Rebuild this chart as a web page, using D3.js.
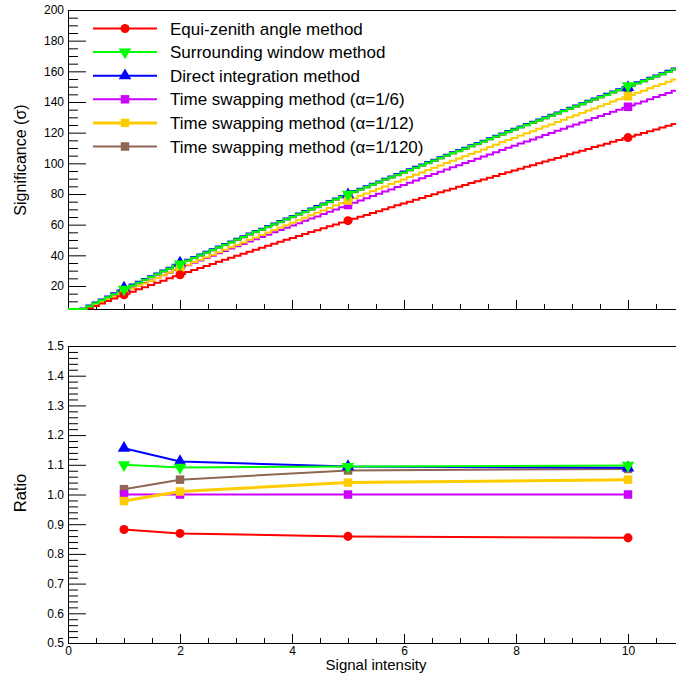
<!DOCTYPE html>
<html><head><meta charset="utf-8">
<script src="https://cdn.jsdelivr.net/npm/d3@7"></script>
<style>
body{margin:0;background:#fff;}
svg{display:block;font-family:"Liberation Sans",Arial,Helvetica,sans-serif;}
</style>
</head><body>
<svg id="c" width="676" height="680"></svg>
<script>
// ---------------- DATA ----------------
const seriesNames = [
  "Equi-zenith angle method",
  "Surrounding window method",
  "Direct integration method",
  "Time swapping method (\u03b1=1/6)",
  "Time swapping method (\u03b1=1/12)",
  "Time swapping method (\u03b1=1/120)"
];
const markerX = [1, 2, 5, 10];

// histograms (significance vs signal intensity), 100 bins on [0, 11]
const histLow = 0, histHigh = 11;
const histRed = [0.8,2.4,4.0,5.5,7.0,8.6,10.2,11.8,13.3,14.9,
 16.3,17.8,19.2,20.6,22.1,23.5,25.0,26.4,27.8,29.1,
 30.4,31.7,33.1,34.4,35.8,37.1,38.4,39.7,41.0,42.4,
 43.6,44.9,46.2,47.5,48.8,50.1,51.3,52.6,53.9,55.2,
 56.3,57.6,58.9,60.1,61.4,62.7,63.9,65.2,66.3,67.6,
 68.8,70.1,71.3,72.6,73.8,75.0,76.2,77.4,78.7,79.9,
 81.1,82.3,83.5,84.7,85.9,87.1,88.3,89.4,90.6,91.8,
 93.0,94.2,95.4,96.5,97.7,98.8,100.0,101.2,102.4,103.5,
 104.7,105.9,107.0,108.2,109.4,110.6,111.6,112.8,114.0,115.2,
 116.3,117.5,118.7,119.8,121.0,122.1,123.3,124.5,125.6,126.8];
const histGreen = [1.0,3.0,4.9,6.8,8.8,10.7,12.7,14.7,16.5,18.5,
 20.4,22.2,24.0,25.8,27.7,29.6,31.4,33.3,35.0,36.7,
 38.4,40.1,41.8,43.5,45.2,46.9,48.6,50.3,51.9,53.7,
 55.3,56.9,58.6,60.2,61.9,63.5,65.2,66.8,68.4,70.1,
 71.6,73.3,74.9,76.5,78.2,79.8,81.4,83.0,84.5,86.2,
 87.7,89.4,90.9,92.5,94.1,95.7,97.2,98.8,100.4,101.9,
 103.5,105.1,106.7,108.2,109.7,111.3,112.8,114.3,115.9,117.5,
 119.0,120.6,122.1,123.6,125.2,126.6,128.1,129.6,131.2,132.7,
 134.2,135.8,137.2,138.7,140.3,141.8,143.2,144.8,146.3,147.8,
 149.2,150.8,152.3,153.7,155.3,156.8,158.2,159.8,161.3,162.7];
const histBlue = [1.5,3.5,5.4,7.3,9.3,11.2,13.2,15.2,17.0,19.0,
 20.9,22.7,24.5,26.3,28.2,30.1,31.9,33.8,35.5,37.2,
 38.9,40.6,42.3,44.0,45.7,47.4,49.1,50.8,52.4,54.2,
 55.8,57.4,59.1,60.7,62.4,64.0,65.7,67.3,68.9,70.6,
 72.1,73.8,75.4,77.0,78.7,80.3,81.9,83.5,85.0,86.7,
 88.2,89.9,91.4,93.0,94.6,96.2,97.7,99.3,100.9,102.4,
 104.0,105.6,107.2,108.7,110.2,111.8,113.3,114.8,116.4,118.0,
 119.5,121.1,122.6,124.1,125.7,127.1,128.6,130.1,131.7,133.2,
 134.7,136.3,137.7,139.2,140.8,142.3,143.7,145.3,146.8,148.3,
 149.7,151.3,152.8,154.2,155.8,157.3,158.7,160.3,161.8,163.2];
const histMagenta = [0.9,2.7,4.5,6.2,8.0,9.8,11.6,13.4,15.1,16.9,
 18.6,20.3,21.9,23.6,25.3,27.0,28.7,30.4,32.0,33.5,
 35.1,36.6,38.2,39.7,41.3,42.8,44.4,45.9,47.4,49.0,
 50.5,52.0,53.5,55.0,56.5,58.0,59.5,61.0,62.5,64.0,
 65.4,66.9,68.4,69.9,71.4,72.9,74.3,75.8,77.2,78.7,
 80.1,81.6,83.0,84.5,85.9,87.4,88.8,90.2,91.7,93.1,
 94.5,96.0,97.4,98.8,100.2,101.6,103.0,104.4,105.8,107.3,
 108.7,110.1,111.5,112.9,114.3,115.6,117.0,118.4,119.8,121.2,
 122.6,124.0,125.3,126.7,128.1,129.5,130.8,132.2,133.6,135.0,
 136.3,137.7,139.1,140.4,141.8,143.2,144.5,145.9,147.3,148.6];
const histYellow = [0.9,2.6,4.4,6.1,7.8,9.6,11.4,13.1,14.8,16.6,
 18.3,20.1,21.7,23.5,25.2,27.0,28.8,30.6,32.3,33.9,
 35.6,37.1,38.8,40.3,42.0,43.6,45.2,46.8,48.4,50.1,
 51.7,53.3,54.9,56.5,58.1,59.7,61.3,62.9,64.5,66.1,
 67.7,69.3,70.9,72.6,74.2,75.8,77.3,78.8,80.4,81.9,
 83.4,84.9,86.5,88.0,89.5,91.1,92.5,94.1,95.6,97.1,
 98.6,100.2,101.7,103.1,104.6,106.1,107.6,109.1,110.6,112.1,
 113.7,115.2,116.6,118.1,119.6,121.0,122.5,124.0,125.4,126.9,
 128.5,130.0,131.3,132.8,134.4,135.8,137.2,138.7,140.3,141.8,
 143.1,144.6,146.1,147.4,148.9,150.4,151.7,153.2,154.7,156.0];
const histBrown = [0.7,2.7,4.6,6.5,8.5,10.4,12.4,14.4,16.2,18.2,
 20.1,21.9,23.7,25.5,27.4,29.3,31.1,33.0,34.7,36.4,
 38.1,39.8,41.5,43.2,44.9,46.6,48.3,50.0,51.6,53.4,
 55.0,56.6,58.3,59.9,61.6,63.2,64.9,66.5,68.1,69.8,
 71.3,73.0,74.6,76.2,77.9,79.5,81.1,82.7,84.2,85.9,
 87.4,89.1,90.6,92.2,93.8,95.4,96.9,98.5,100.1,101.6,
 103.2,104.8,106.4,107.9,109.4,111.0,112.5,114.0,115.6,117.2,
 118.7,120.3,121.8,123.3,124.9,126.3,127.8,129.3,130.9,132.4,
 133.9,135.5,136.9,138.4,140.0,141.5,142.9,144.5,146.0,147.5,
 148.9,150.5,152.0,153.4,155.0,156.5,157.9,159.5,161.0,162.4];

// significance markers at markerX
const sigRed     = [14.3, 27.3, 62.6, 116.8];
const sigGreen   = [17.8, 34.3, 79.7, 150.6];
const sigBlue    = [18.7, 35.0, 79.6, 149.5];
const sigMagenta = [16.2, 31.5, 72.8, 136.9];
const sigYellow  = [15.9, 31.8, 75.7, 143.7];
const sigBrown   = [16.5, 33.1, 78.6, 148.9];

// ratios at markerX
const ratioRed     = [0.882, 0.869, 0.859, 0.854];
const ratioGreen   = [1.100, 1.091, 1.094, 1.098];
const ratioBlue    = [1.156, 1.111, 1.094, 1.090];
const ratioMagenta = [1.000, 1.000, 1.000, 1.000];
const ratioYellow  = [0.978, 1.010, 1.040, 1.050];
const ratioBrown   = [1.018, 1.050, 1.081, 1.086];

// tick labels
const xTickLabels = [0, 2, 4, 6, 8, 10];
const ySigTickLabels = [20, 40, 60, 80, 100, 120, 140, 160, 180, 200];
const yRatioTickLabels = [0.5, 0.6, 0.7, 0.8, 0.9, 1, 1.1, 1.2, 1.3, 1.4, 1.5];

// ---------------- STYLES ----------------
const series = [
  {name: seriesNames[0], hist: histRed,     sig: sigRed,     ratio: ratioRed,     color: "#ff0000", sym: "circle",  lw: 2},
  {name: seriesNames[1], hist: histGreen,   sig: sigGreen,   ratio: ratioGreen,   color: "#00ff00", sym: "tridown", lw: 2},
  {name: seriesNames[2], hist: histBlue,    sig: sigBlue,    ratio: ratioBlue,    color: "#0000ff", sym: "triup",   lw: 2},
  {name: seriesNames[3], hist: histMagenta, sig: sigMagenta, ratio: ratioMagenta, color: "#cc00ff", sym: "square",  lw: 2},
  {name: seriesNames[4], hist: histYellow,  sig: sigYellow,  ratio: ratioYellow,  color: "#ffcc00", sym: "square",  lw: 3},
  {name: seriesNames[5], hist: histBrown,   sig: sigBrown,   ratio: ratioBrown,   color: "#8f6553", sym: "square",  lw: 2}
];
const drawOrder = [5, 2, 3, 4, 0, 1];

const svg = d3.select("#c");
const xS = d3.scaleLinear().domain([0, 11]).range([68, 684]);
const yT = d3.scaleLinear().domain([5, 200]).range([309, 10]);
const yB = d3.scaleLinear().domain([0.5, 1.5]).range([643, 346]);

function symPath(sym) {
  if (sym === "circle") return d3.symbol().type(d3.symbolCircle).size(64)();
  if (sym === "square") return d3.symbol().type(d3.symbolSquare).size(72)();
  return d3.symbol().type(d3.symbolTriangle).size(68)();
}
function symTransform(sym, x, y) {
  return sym === "tridown" ? `translate(${x},${y}) rotate(180)` : `translate(${x},${y})`;
}

function styleAxis(g) {
  g.attr("font-family", null).attr("font-size", null);
  g.selectAll("line").attr("stroke", "#000");
  g.selectAll("path").attr("stroke", "#000");
  g.selectAll("text").attr("fill", "#000").style("font-size", "12px")
    .style("font-family", '"Liberation Sans",Arial,sans-serif');
}
function minorRange(a, b, step, skip) {
  const out = [];
  for (let k = Math.round(a / step); k * step <= b + 1e-9; k++) {
    const v = +(k * step).toFixed(4);
    if (!skip(v)) out.push(v);
  }
  return out;
}

// ---------------- TOP PANEL ----------------
const topG = svg.append("g");
topG.append("line").attr("x1", 68).attr("x2", 676).attr("y1", 10.5).attr("y2", 10.5).attr("stroke", "#000");
topG.append("g").attr("transform", "translate(68,0)")
  .call(d3.axisLeft(yT).tickValues(ySigTickLabels).tickSize(-18).tickSizeOuter(0).tickPadding(4))
  .call(styleAxis);
topG.append("g").attr("transform", "translate(68,0)")
  .call(d3.axisLeft(yT).tickValues(minorRange(5, 200, 5, v => v % 20 === 0)).tickSize(-10).tickSizeOuter(0).tickFormat(""))
  .call(g => g.select(".domain").remove()).call(styleAxis);
topG.append("g").attr("transform", "translate(0,309)")
  .call(d3.axisBottom(xS).tickValues(xTickLabels).tickSize(-9).tickSizeOuter(0).tickFormat(""))
  .call(styleAxis);
topG.append("g").attr("transform", "translate(0,309)")
  .call(d3.axisBottom(xS).tickValues(minorRange(0, 11, 0.5, v => Math.abs(v % 2) < 1e-9)).tickSize(-5).tickSizeOuter(0).tickFormat(""))
  .call(g => g.select(".domain").remove()).call(styleAxis);

const nBins = histRed.length;
const edges = d3.range(nBins + 1).map(i => histLow + i * (histHigh - histLow) / nBins);
const stepLine = d3.line().x(d => xS(d[0])).y(d => yT(Math.max(d[1], 5))).curve(d3.curveStepAfter);
drawOrder.forEach(si => {
  const s = series[si];
  const pts = s.hist.map((v, i) => [edges[i], v]);
  pts.push([edges[nBins], s.hist[nBins - 1]]);
  topG.append("path").attr("d", stepLine(pts)).attr("fill", "none")
    .attr("stroke", s.color).attr("stroke-width", 2);
});
drawOrder.forEach(si => {
  const s = series[si];
  topG.selectAll(null).data(markerX.map((x, i) => [x, s.sig[i]])).enter().append("path")
    .attr("d", symPath(s.sym)).attr("transform", d => symTransform(s.sym, xS(d[0]), yT(d[1])))
    .attr("fill", s.color);
});

series.forEach((s, i) => {
  const y = 28.5 + i * 23.6;
  topG.append("line").attr("x1", 93).attr("x2", 157).attr("y1", y).attr("y2", y)
    .attr("stroke", s.color).attr("stroke-width", s.lw);
  topG.append("path").attr("d", symPath(s.sym)).attr("transform", symTransform(s.sym, 125, y)).attr("fill", s.color);
  topG.append("text").attr("x", 170).attr("y", y + 6).text(s.name)
    .style("font-size", "17px").attr("fill", "#000");
});

topG.append("text").attr("transform", "translate(26,160) rotate(-90)").attr("text-anchor", "middle")
  .style("font-size", "16px").text("Significance (\u03c3)");

// ---------------- BOTTOM PANEL ----------------
const botG = svg.append("g");
botG.append("line").attr("x1", 68).attr("x2", 676).attr("y1", 346.5).attr("y2", 346.5).attr("stroke", "#000");
botG.append("g").attr("transform", "translate(68,0)")
  .call(d3.axisLeft(yB).tickValues(yRatioTickLabels).tickSize(-18).tickSizeOuter(0).tickPadding(4))
  .call(styleAxis);
botG.append("g").attr("transform", "translate(68,0)")
  .call(d3.axisLeft(yB).tickValues(minorRange(0.5, 1.5, 0.02, v => Math.abs(v * 10 - Math.round(v * 10)) < 1e-6)).tickSize(-10).tickSizeOuter(0).tickFormat(""))
  .call(g => g.select(".domain").remove()).call(styleAxis);
botG.append("g").attr("transform", "translate(0,643)")
  .call(d3.axisBottom(xS).tickValues(xTickLabels).tickSize(-9).tickSizeOuter(0).tickPadding(3))
  .call(styleAxis);
botG.append("g").attr("transform", "translate(0,643)")
  .call(d3.axisBottom(xS).tickValues(minorRange(0, 11, 0.5, v => Math.abs(v % 2) < 1e-9)).tickSize(-5).tickSizeOuter(0).tickFormat(""))
  .call(g => g.select(".domain").remove()).call(styleAxis);

const rLine = d3.line().x(d => xS(d[0])).y(d => yB(d[1]));
drawOrder.forEach(si => {
  const s = series[si];
  const pts = markerX.map((x, i) => [x, s.ratio[i]]);
  botG.append("path").attr("d", rLine(pts)).attr("fill", "none")
    .attr("stroke", s.color).attr("stroke-width", s.lw);
  botG.selectAll(null).data(pts).enter().append("path")
    .attr("d", symPath(s.sym)).attr("transform", d => symTransform(s.sym, xS(d[0]), yB(d[1])))
    .attr("fill", s.color);
});

botG.append("text").attr("transform", "translate(26,493) rotate(-90)").attr("text-anchor", "middle")
  .style("font-size", "16.5px").text("Ratio");
botG.append("text").attr("x", xS(5.5)).attr("y", 670).attr("text-anchor", "middle")
  .style("font-size", "15px").text("Signal intensity");
</script>
</body></html>
